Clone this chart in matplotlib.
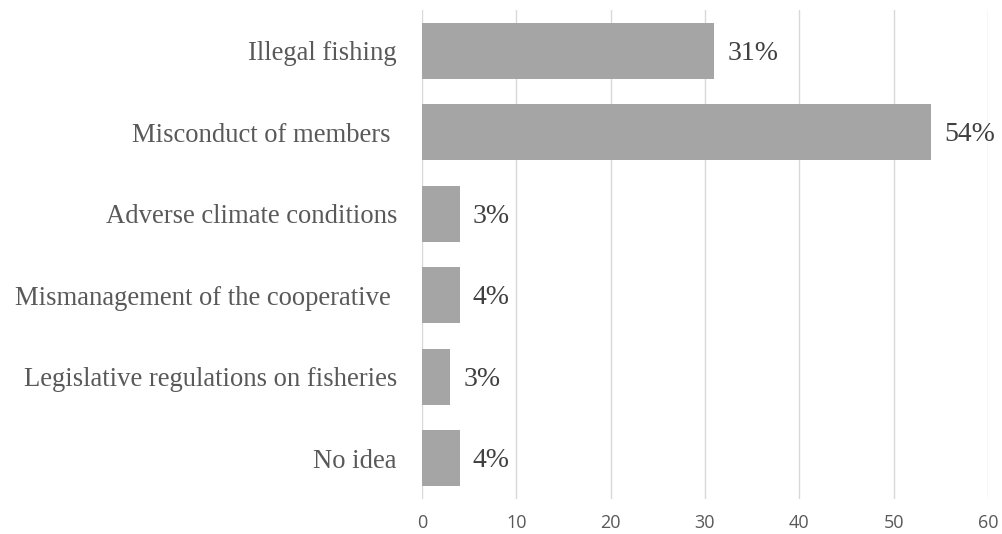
import matplotlib.pyplot as plt

# 数据
categories = ['Illegal fishing', 'Misconduct of members ', 'Adverse climate conditions',
              'Mismanagement of the cooperative ', 'Legislative regulations on fisheries', 'No idea']
values = [31, 54, 4, 4, 3, 4]
pct_labels = ['31%', '54%', '3%', '4%', '3%', '4%']
xticks = [0, 10, 20, 30, 40, 50, 60]

fig = plt.figure(figsize=(10.03, 5.34), dpi=100)
ax = fig.add_axes([0.4207, 0.0655, 0.5643, 0.9155])

y = list(range(len(categories)))
ax.barh(y, values, height=0.69, color='#a5a5a5', zorder=3)

# 百分比标签
for yi, v, lab in zip(y, values, pct_labels):
    ax.text(v + 1.4, yi + 0.03, lab, va='center', ha='left', fontsize=20,
            family='Liberation Serif', color='#404040')

ax.set_ylim(len(categories) - 0.5, -0.5)
ax.set_xlim(0, 60)
ax.set_yticks(y)
ax.set_yticklabels(categories, fontsize=19.2, family='Liberation Serif', color='#595959')
ax.set_xticks(xticks)
ax.set_xticklabels([str(t) for t in xticks], fontsize=13, family='Open Sans', color='#595959')
ax.tick_params(axis='both', length=0)
ax.tick_params(axis='y', pad=18)
ax.tick_params(axis='x', pad=11)

ax.grid(axis='x', color='#d9d9d9', linewidth=1, zorder=0)
for s in ax.spines.values():
    s.set_visible(False)

fig.savefig('out.png', dpi=100)
